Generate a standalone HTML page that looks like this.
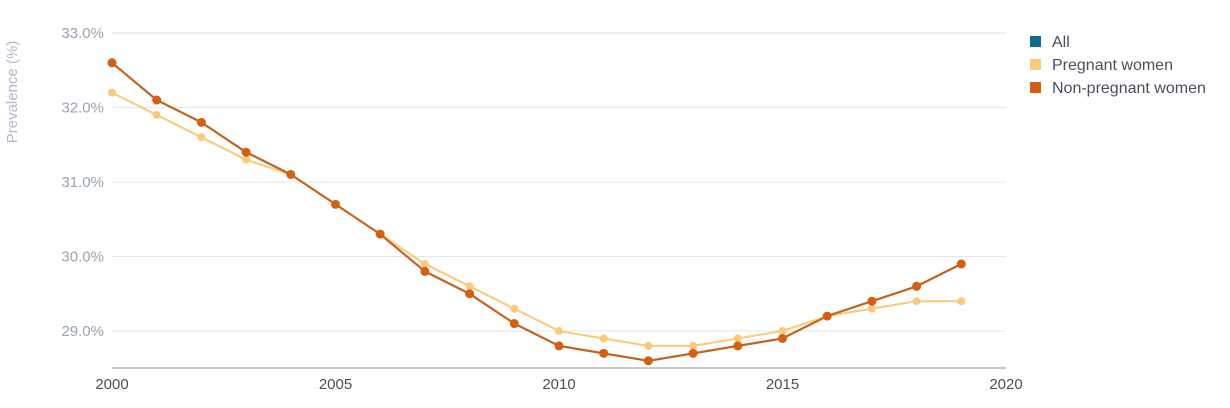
<!DOCTYPE html>
<html><head><meta charset="utf-8"><style>
body{margin:0;background:#fff;font-family:"Liberation Sans",sans-serif;}
svg text{font-family:"Liberation Sans",sans-serif;}
</style></head><body>
<svg id="chart" width="1230" height="403">
<g id="grid"></g><g id="series"></g>
<text transform="translate(17,92) rotate(-90)" text-anchor="middle" font-size="15" fill="#b0b8c4">Prevalence (%)</text>
<g>
<g><rect x="1030" y="36" width="11" height="11" fill="#0b6e8c"/><text x="1052" y="47" font-size="16" fill="#4a4f5a">All</text></g>
<g><rect x="1030" y="59" width="11" height="11" fill="#fbc97a"/><text x="1052" y="70" font-size="16" fill="#4a4f5a">Pregnant women</text></g>
<g><rect x="1030" y="82" width="11" height="11" fill="#d35f12"/><text x="1052" y="93" font-size="16" fill="#4a4f5a">Non-pregnant women</text></g>
</g>
</svg>
<script>
const years=[2000,2001,2002,2003,2004,2005,2006,2007,2008,2009,2010,2011,2012,2013,2014,2015,2016,2017,2018,2019];
const allVals=[32.6,32.1,31.8,31.4,31.1,30.7,30.3,29.8,29.5,29.1,28.8,28.7,28.6,28.7,28.8,28.9,29.2,29.4,29.6,29.9];
const pregnant=[32.2,31.9,31.6,31.3,31.1,30.7,30.3,29.9,29.6,29.3,29.0,28.9,28.8,28.8,28.9,29.0,29.2,29.3,29.4,29.4];
const nonPregnant=[32.6,32.1,31.8,31.4,31.1,30.7,30.3,29.8,29.5,29.1,28.8,28.7,28.6,28.7,28.8,28.9,29.2,29.4,29.6,29.9];
const yTicks=[29,30,31,32,33];
const xTicks=[2000,2005,2010,2015,2020];
const NS="http://www.w3.org/2000/svg";
const x=v=>112+(v-2000)*(1006-112)/20;
const y=v=>331-(v-29)*74.5;
function mk(t,a,p){const e=document.createElementNS(NS,t);for(const k in a)e.setAttribute(k,a[k]);p.appendChild(e);return e;}
const grid=document.getElementById('grid'),ser=document.getElementById('series');
yTicks.forEach(t=>{
 const l=mk('line',{x1:112,x2:1006,y1:y(t),y2:y(t),stroke:'#dfe9e6','stroke-width':1},grid);
 
 
 const tx=mk('text',{x:104,y:y(t)+5,'text-anchor':'end','font-size':15,fill:'#9aa3b2'},grid);
 tx.textContent=t.toFixed(1)+'%';
 
 
});
const ax=mk('line',{x1:112,x2:1006,y1:368,y2:368,stroke:'#8a9099','stroke-width':1},grid);


xTicks.forEach(t=>{
 const tx=mk('text',{x:x(t),y:389,'text-anchor':'middle','font-size':15,fill:'#4a4f5a'},grid);
 tx.textContent=t;
 
 
});
function draw(vals,color,name,r){
 const g=mk('g',{},ser);
 
 
 const p=mk('path',{d:vals.map((v,i)=>(i?'L':'M')+x(years[i])+' '+y(v)).join(''),fill:'none',stroke:color,'stroke-width':2},g);
 
 
 vals.forEach((v,i)=>{
  const c=mk('circle',{cx:x(years[i]),cy:y(v),r:r,fill:color},g);
  
  
 });
}
draw(allVals,'#0b6e8c','series-all',4);
draw(pregnant,'#fbc97a','series-pregnant',4);
draw(nonPregnant,'#d35f12','series-non-pregnant',4.5);
</script>
</body></html>
